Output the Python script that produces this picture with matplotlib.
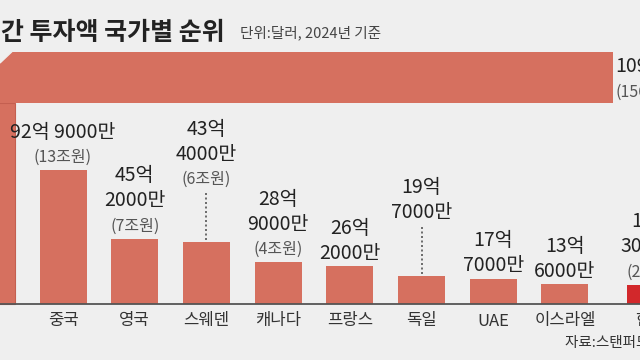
import numpy as np
import matplotlib
matplotlib.use("Agg")
import matplotlib.pyplot as plt
from matplotlib.patches import Polygon

plt.rcParams['font.family'] = ['Noto Sans CJK KR', 'DejaVu Sans']

# ---- data ----
countries = ['미국', '중국', '영국', '스웨덴', '캐나다', '프랑스', '독일', 'UAE', '이스라엘', '한국']
values = [1091, 92.9, 45.2, 43.4, 28.9, 26.2, 19.7, 17.7, 13.6, 13.3]   # 억 달러
labels_main = [['1091억'], ['92억 9000만'], ['45억', '2000만'], ['43억', '4000만'],
               ['28억', '9000만'], ['26억', '2000만'], ['19억', '7000만'],
               ['17억', '7000만'], ['13억', '6000만'], ['13억', '3000만']]
labels_won = ['(156조원)', '(13조원)', '(7조원)', '(6조원)', '(4조원)', '', '', '', '', '(2조원)']

title = 'AI 민간 투자액 국가별 순위'
subtitle = '단위:달러, 2024년 기준'
source = '자료:스탠퍼드대 AI 인덱스'

# ---- style ----
BG = '#efefef'
BAR = '#d6705f'
KOR = '#d2282b'
W, H = 640, 360
x0_px, dx_px = 63, 71.7      # pixel centre of 중국, spacing
base_px, scale = 304, 1.44   # baseline pixel, px per 억

def px2x(px):
    return 1 + (px - x0_px) / dx_px

def py2y(py):
    return (base_px - py) / scale

fig = plt.figure(figsize=(6.4, 3.6), dpi=100, facecolor=BG)
ax = fig.add_axes([0, 0, 1, 1])
ax.set_facecolor(BG)
ax.set_xlim(px2x(0), px2x(W))
ax.set_ylim(py2y(H), py2y(0))
ax.axis('off')

pos = np.arange(len(countries), dtype=float)
pos[-1] += 0.2
width = 47 / dx_px

# broken US bar: vertical stub + horizontal band
band_lo, band_hi = py2y(103), py2y(52)
band_right = px2x(613)
ax.bar(pos[0], band_lo, width=width, color=BAR, edgecolor='#c45f50', linewidth=0.8, zorder=2)
ax.barh((band_lo + band_hi) / 2, band_right - px2x(-40), height=band_hi - band_lo,
        left=px2x(-40), color=BAR, zorder=2)
ax.add_patch(Polygon([(px2x(0), band_hi + 0.3), (px2x(12), band_hi + 0.3), (px2x(0), py2y(63))],
                     closed=True, color=BG, zorder=3))
ax.text(band_right + 2 / dx_px, py2y(66), labels_main[0][0], fontsize=14, color='#222',
        ha='left', va='center')
ax.text(band_right + 2 / dx_px, py2y(92), labels_won[0], fontsize=11.5, color='#555',
        ha='left', va='center')

# other bars
colors = [BAR] * (len(countries) - 1) + [KOR]
ax.bar(pos[1:], values[1:], width=width, color=colors[1:], zorder=2)
ax.axhline(0, color='#555555', lw=1.3, zorder=3)

lift = {3: 49, 6: 50}
for i in range(1, len(countries)):
    x, v = pos[i], values[i]
    off = 13 + lift.get(i, 0)
    if labels_won[i]:
        ax.annotate(labels_won[i], (x, v), xytext=(0, off), textcoords='offset pixels',
                    ha='center', va='center', fontsize=11.5, color='#555',
                    annotation_clip=False)
        off += 25
    for line in reversed(labels_main[i]):
        ax.annotate(line, (x, v), xytext=(0, off), textcoords='offset pixels',
                    ha='center', va='center', fontsize=14, color='#222',
                    annotation_clip=False)
        off += 25
    if i in lift:
        ax.plot([x, x], [v + 2 / scale, v + lift[i] / scale],
                ls=(0, (1.2, 1.5)), color='#555', lw=1.2, zorder=1)
    ax.text(x, py2y(321), countries[i], ha='center', va='center', fontsize=12, color='#333')

# title & notes
ax.text(px2x(225), py2y(33), title, ha='right', va='center', fontsize=18,
        fontweight='bold', color='#222')
ax.text(px2x(240), py2y(33), subtitle, ha='left', va='center', fontsize=10.5, color='#444')
ax.text(px2x(565), py2y(343), source, ha='left', va='center', fontsize=10.5, color='#333')

fig.savefig('out.png', dpi=100, facecolor=BG)
